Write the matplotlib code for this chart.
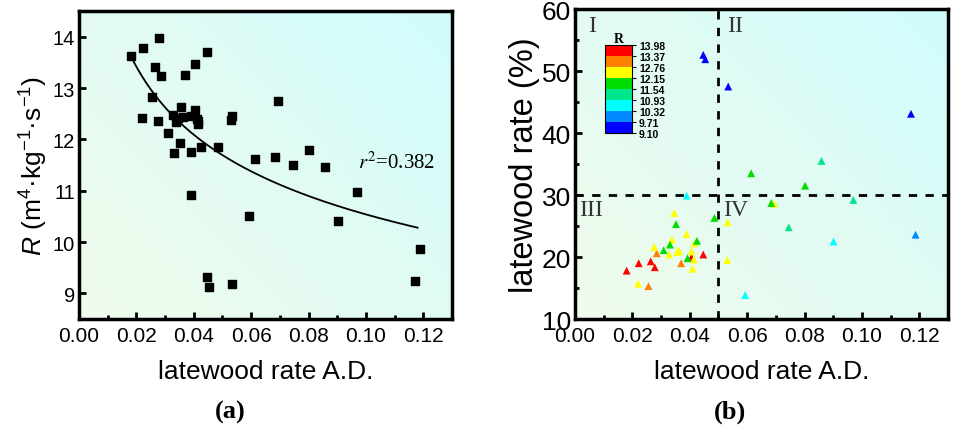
import matplotlib
matplotlib.use("Agg")
import matplotlib.pyplot as plt
import numpy as np
from matplotlib.colors import ListedColormap, BoundaryNorm, LinearSegmentedColormap
from matplotlib.ticker import MultipleLocator

plt.rcParams["font.family"] = ["Liberation Sans", "DejaVu Sans"]
plt.rcParams["mathtext.fontset"] = "custom"
plt.rcParams["mathtext.rm"] = "Liberation Sans"
plt.rcParams["mathtext.it"] = "Liberation Sans:italic"

# latewood rate A.D. (shared by both panels)
AD = [0.0180, 0.0222, 0.0278, 0.0447, 0.0264, 0.0285, 0.0406, 0.0370, 0.0256, 0.0694,
      0.0220, 0.0276, 0.0356, 0.0406, 0.0328, 0.0346, 0.0363, 0.0338, 0.0389, 0.0410,
      0.0416, 0.0414, 0.0532, 0.0531, 0.0309, 0.0352, 0.0331, 0.0392, 0.0425, 0.0486,
      0.0614, 0.0684, 0.0745, 0.0389, 0.0970, 0.0593, 0.0901, 0.1187, 0.0447, 0.0454,
      0.0534, 0.1171, 0.0802, 0.0859]
# R (m4 kg-1 s-1)
R_VAL = [13.63, 13.78, 13.98, 13.71, 13.40, 13.24, 13.47, 13.25, 12.83, 12.75,
         12.42, 12.36, 12.63, 12.57, 12.47, 12.42, 12.44, 12.34, 12.46, 12.40,
         12.30, 12.35, 12.45, 12.37, 12.12, 11.93, 11.74, 11.76, 11.85, 11.85,
         11.61, 11.65, 11.50, 10.91, 10.97, 10.50, 10.41, 9.87, 9.31, 9.13,
         9.19, 9.25, 11.79, 11.47]
# latewood rate (%)
LW_RATE = [17.8, 19.0, 18.35, 20.4, 19.3, 20.6, 19.95, 19.0, 15.3, 28.6,
           15.7, 21.6, 20.8, 20.9, 20.4, 27.1, 21.0, 22.8, 23.7, 18.1,
           22.2, 19.6, 25.6, 19.5, 21.1, 25.3, 22.0, 19.8, 22.6, 26.3,
           33.5, 28.7, 24.8, 29.9, 29.2, 13.85, 22.5, 23.6, 52.6, 51.9,
           47.5, 43.1, 31.5, 35.5]

# power fit: R = a * AD^b
FIT_A = 7.46
FIT_B = -0.150
FIT_RANGE = (0.018, 0.118)
R_SQUARED = "0.382"

R_LEVELS = [9.10, 9.71, 10.32, 10.93, 11.54, 12.15, 12.76, 13.37, 13.98]
R_COLORS = ["#0000ff", "#0088ff", "#00ffff", "#00e68a", "#00dd00", "#ffff00", "#ff8000", "#ff0000"]

cmap = ListedColormap(R_COLORS)
norm = BoundaryNorm(R_LEVELS, cmap.N)
bg_cmap = LinearSegmentedColormap.from_list("bg", ["#f0fcec", "#e2fbf3", "#d0fdfd"])


def draw_background(ax):
    xx, yy = np.meshgrid(np.linspace(0, 1, 200), np.linspace(0, 1, 200))
    grad = 0.55 * xx + 0.45 * yy
    ax.imshow(grad, cmap=bg_cmap, extent=[0, 1, 0, 1], transform=ax.transAxes,
              origin="lower", aspect="auto", zorder=0, interpolation="bilinear")


def style_axes(ax, ysize):
    for sp in ax.spines.values():
        sp.set_linewidth(2.5)
    ax.tick_params(which="both", direction="in", width=2)
    ax.tick_params(which="major", length=5)
    ax.tick_params(which="minor", length=3)
    ax.tick_params(axis="x", labelsize=15, pad=5)
    ax.tick_params(axis="y", labelsize=ysize, pad=3)
    ax.tick_params(axis="y", which="both", right=False)


fig = plt.figure(figsize=(9.54, 4.27), dpi=100)
W, H = 954, 427

# panel (a)
ax1 = fig.add_axes([79 / W, 1 - 320 / H, (452 - 79) / W, (320 - 12) / H])
draw_background(ax1)
ax1.scatter(AD, R_VAL, marker="s", s=28, color="black", zorder=3)
xf = np.linspace(FIT_RANGE[0], FIT_RANGE[1], 200)
ax1.plot(xf, FIT_A * xf ** FIT_B, color="black", lw=1.3, zorder=2)
ax1.text(0.0972, 11.55, r"$r^2$=" + R_SQUARED, fontsize=15, va="center",
         family="Liberation Serif", math_fontfamily="stix", zorder=4)
ax1.set_xlim(0, 0.13)
ax1.set_ylim(8.5, 14.5)
ax1.xaxis.set_major_locator(MultipleLocator(0.02))
ax1.xaxis.set_minor_locator(MultipleLocator(0.01))
ax1.yaxis.set_major_locator(MultipleLocator(1))
ax1.xaxis.set_major_formatter(plt.FormatStrFormatter("%.2f"))
style_axes(ax1, 14.5)
ax1.set_xlabel("latewood rate A.D.", fontsize=19, labelpad=10)
ax1.set_ylabel(r"$\mathit{R}$ (m$^4$·kg$^{-1}$·s$^{-1}$)", fontsize=19, labelpad=2)

# panel (b)
ax2 = fig.add_axes([575 / W, 1 - 320 / H, (948 - 575) / W, (320 - 10) / H])
draw_background(ax2)
ax2.scatter(AD, LW_RATE, c=R_VAL, cmap=cmap, norm=norm, marker="^", s=32,
            linewidths=0, zorder=3)
ax2.axvline(0.05, color="black", ls=(0, (3, 3)), lw=2, zorder=2)
ax2.axhline(30, color="black", ls=(0, (3, 3)), lw=2, zorder=2)
serif = dict(family="Liberation Serif", fontsize=17, color="#333333", va="top", zorder=4)
ax2.text(0.0044, 59.0, "I", **serif)
ax2.text(0.0529, 59.0, "II", **serif)
ax2.text(0.0013, 29.3, "III", **serif)
ax2.text(0.0516, 29.3, "IV", **serif)
ax2.set_xlim(0, 0.13)
ax2.set_ylim(10, 60)
ax2.xaxis.set_major_locator(MultipleLocator(0.02))
ax2.xaxis.set_minor_locator(MultipleLocator(0.01))
ax2.yaxis.set_major_locator(MultipleLocator(10))
ax2.yaxis.set_minor_locator(MultipleLocator(5))
ax2.xaxis.set_major_formatter(plt.FormatStrFormatter("%.2f"))
style_axes(ax2, 19)
ax2.set_xlabel("latewood rate A.D.", fontsize=19, labelpad=10)
ax2.set_ylabel("latewood rate (%)", fontsize=23.5, labelpad=1)

# colour legend for R
cax = fig.add_axes([605 / W, 1 - 134 / H, 27 / W, 88 / H])
cb = fig.colorbar(plt.cm.ScalarMappable(norm=norm, cmap=cmap), cax=cax,
                  ticks=R_LEVELS, spacing="uniform")
cb.outline.set_linewidth(0.8)
cax.tick_params(labelsize=7.5, length=3, width=0.8, pad=2)
cax.set_yticklabels([f"{v:.2f}" for v in R_LEVELS], fontweight="bold")
cax.set_title("R", fontsize=10, fontweight="bold", family="Liberation Serif", pad=2)

fig.text(230 / W, 1 - 412 / H, "(a)", ha="center", va="center", fontsize=19,
         fontweight="bold", family="Liberation Serif")
fig.text(730 / W, 1 - 412 / H, "(b)", ha="center", va="center", fontsize=19,
         fontweight="bold", family="Liberation Serif")

fig.savefig("out.png", dpi=100)
